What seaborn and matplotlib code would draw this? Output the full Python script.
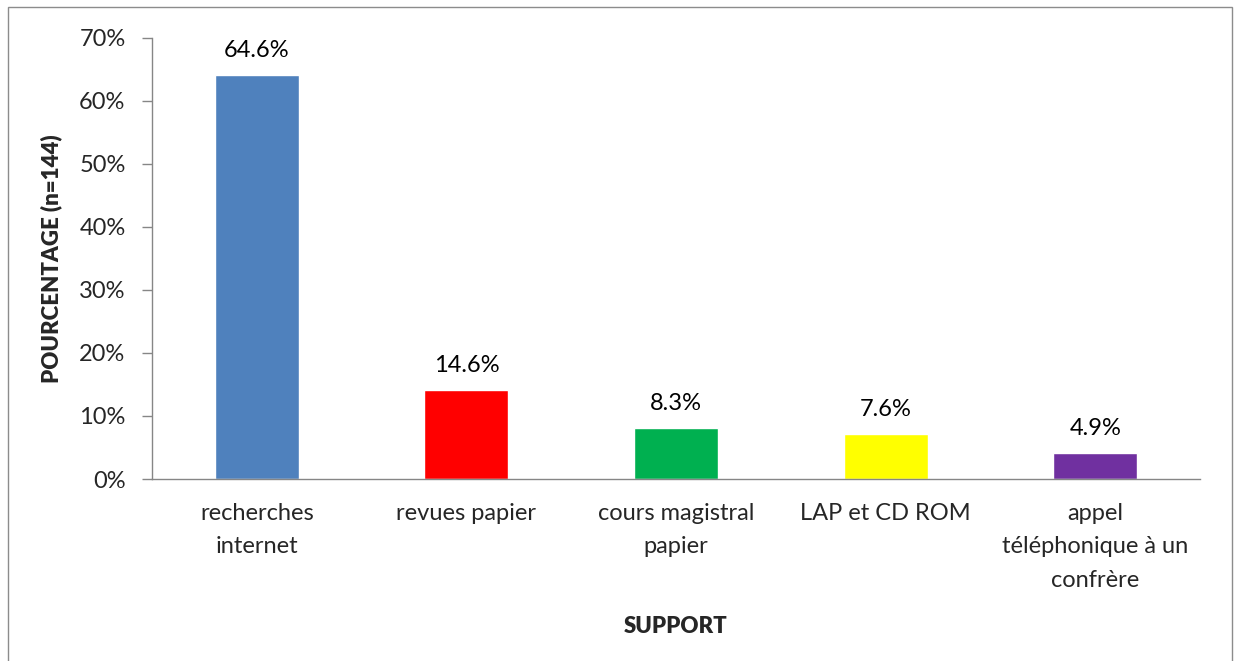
import pandas as pd
import matplotlib.pyplot as plt
import matplotlib.ticker as mticker
from matplotlib.patches import Rectangle
import seaborn as sns

# Data
supports = ['recherches\ninternet', 'revues papier', 'cours magistral\npapier',
            'LAP et CD ROM', 'appel\ntéléphonique à un\nconfrère']
bar_values = [64.1, 14.1, 8.1, 7.1, 4.1]
value_labels = ['64.6%', '14.6%', '8.3%', '7.6%', '4.9%']
bar_colors = ['#4F81BD', '#FF0000', '#00B050', '#FFFF00', '#7030A0']

df = pd.DataFrame({'Support': supports, 'Pourcentage': bar_values})

sns.set_style('white')
plt.rcParams['font.family'] = ['Lato', 'DejaVu Sans']

fig = plt.figure(figsize=(12.4, 6.61), dpi=100)
ax = fig.add_axes([152 / 1240, 1 - 479 / 661, (1200 - 152) / 1240, (479 - 37.7) / 661])

sns.barplot(data=df, x='Support', y='Pourcentage', hue='Support',
            palette=bar_colors, legend=False, width=0.4, saturation=1, ax=ax)

# Value labels above bars
for i, (v, lab) in enumerate(zip(bar_values, value_labels)):
    ax.annotate(lab, (i, v), xytext=(0, 13), textcoords='offset points',
                ha='center', va='baseline', fontsize=17, color='black')

ax.set_xlim(-0.5, len(supports) - 0.5)
ax.set_ylim(0, 70)
ax.yaxis.set_major_locator(mticker.MultipleLocator(10))
ax.yaxis.set_major_formatter(mticker.PercentFormatter(xmax=100, decimals=0))

# category boundaries as tick marks
ax.set_xticks([x - 0.5 for x in range(len(supports) + 1)], minor=True)
ax.tick_params(axis='x', which='major', length=0, pad=17, labelsize=17)
ax.tick_params(axis='x', which='minor', length=7, color='#868686', width=1, direction='out')
ax.tick_params(axis='y', which='major', length=7, color='#868686', width=1,
               direction='out', pad=12, labelsize=17, left=True)
for lab in ax.get_xticklabels():
    lab.set_linespacing(1.75)

for side in ['top', 'right']:
    ax.spines[side].set_visible(False)
for side in ['left', 'bottom']:
    ax.spines[side].set_color('#868686')
    ax.spines[side].set_linewidth(1)

ax.set_xlabel('SUPPORT', fontsize=16, fontweight='heavy', labelpad=18)
ax.set_ylabel('POURCENTAGE (n=144)', fontsize=16, fontweight='heavy', labelpad=12)

# outer chart frame
fig.patches.append(Rectangle((8 / 1240, -0.02), (1232 - 8) / 1240, 1 - 7 / 661 + 0.02,
                             transform=fig.transFigure, fill=False,
                             edgecolor='#8C8C8C', linewidth=1))

fig.savefig('out.png', dpi=100)
